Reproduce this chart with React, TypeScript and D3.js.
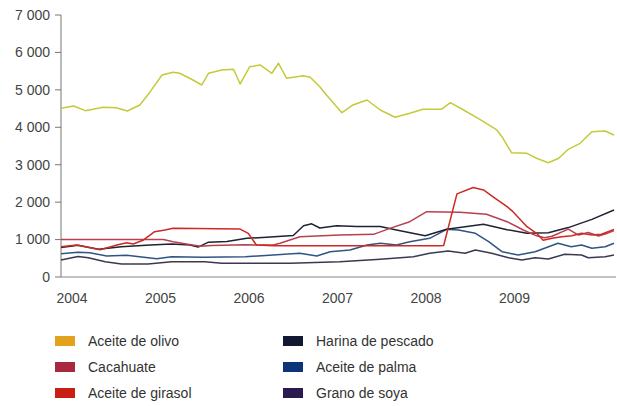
import React from "react";
import * as d3 from "d3";

type Pt = [number, number]; // [month index from Jan 2004, value]

const years = ["2004", "2005", "2006", "2007", "2008", "2009"];
const yTicks = [0, 1000, 2000, 3000, 4000, 5000, 6000, 7000];

const olivo: Pt[] = [
  [0, 4510], [1.7, 4570], [3.3, 4444], [5.7, 4534], [7.5, 4524], [9, 4436], [10.7, 4596],
  [12.1, 4951], [13.7, 5397], [15.2, 5470], [16.1, 5443], [17.7, 5283], [19.1, 5130],
  [20, 5443], [21.8, 5531], [23.4, 5550], [24.3, 5157], [25.6, 5619], [27, 5665],
  [28.6, 5443], [29.5, 5710], [30.6, 5309], [32.9, 5379], [33.8, 5336], [35.1, 5085],
  [36, 4863], [38.1, 4390], [39.6, 4596], [41.5, 4729], [43.3, 4462], [45.3, 4267],
  [47.3, 4374], [49.1, 4481], [51.6, 4481], [52.8, 4657], [54.6, 4462], [56.8, 4214],
  [59.1, 3928], [59.8, 3749], [61.1, 3321], [63.2, 3305], [64.5, 3172], [66.1, 3054],
  [67.5, 3172], [68.8, 3412], [70.4, 3572], [72, 3882], [73.8, 3901], [75, 3794],
];

const cacahuate: Pt[] = [
  [0, 1000], [13.9, 1000], [15.2, 943], [17, 882], [18.9, 820], [20.4, 840], [25, 860],
  [26.5, 855], [28.8, 855], [29.7, 900], [32.4, 1077], [37.8, 1122], [42.4, 1140],
  [44.6, 1300], [47.3, 1478], [49.6, 1745], [54.1, 1728], [57.7, 1675], [60.5, 1478],
  [62.7, 1256], [64.5, 1100], [65.6, 1050], [66.6, 1090], [68.8, 1280], [70.2, 1120],
  [71.5, 1190], [72.9, 1096], [74, 1160], [75, 1240],
];

const girasol: Pt[] = [
  [0, 810], [2.1, 855], [5.3, 730], [7.6, 855], [8.9, 917], [9.8, 880], [11.2, 990],
  [12.7, 1210], [14.1, 1256], [15.2, 1300], [24.3, 1280], [25.4, 1167], [26.5, 855],
  [28.8, 835], [51.4, 835], [51.9, 840], [53.7, 2220], [55.9, 2390], [57.3, 2325],
  [58.6, 2140], [60.5, 1880], [61.3, 1745], [63.2, 1344], [64.5, 1167], [65.4, 980],
  [66.6, 1034], [67.9, 1077], [69.3, 1104], [70.6, 1167], [72, 1122], [73.3, 1141],
  [75, 1270],
];

const harina: Pt[] = [
  [0, 790], [2.3, 850], [5.1, 740], [8.2, 810], [12.1, 855], [15, 880], [17.5, 855],
  [18.6, 800], [20, 930], [22.5, 950], [25.2, 1034], [27.9, 1060], [31.5, 1110],
  [32.9, 1370], [34, 1420], [35.1, 1310], [37.4, 1370], [40.1, 1350], [43.3, 1350],
  [45.5, 1256], [48.2, 1150], [49.4, 1100], [52.3, 1274], [57.3, 1407], [60.5, 1265],
  [63.2, 1167], [66.1, 1180], [68.8, 1320], [72, 1540], [75, 1790],
];

const palma: Pt[] = [
  [0, 620], [2.3, 660], [3.9, 650], [6.2, 560], [8.9, 580], [13, 490], [15, 540],
  [19.3, 526], [25, 543], [32.4, 633], [34.7, 560], [36.5, 676], [39.2, 721],
  [41.5, 855], [43.3, 900], [45.5, 855], [47.3, 943], [50, 1034], [52.3, 1274],
  [53.9, 1256], [56.2, 1167], [58, 943], [59.8, 676], [62, 588], [64.3, 676],
  [67.4, 900], [69.2, 810], [70.6, 855], [72, 767], [73.8, 810], [75, 900],
];

const soya: Pt[] = [
  [0, 454], [2.3, 550], [3.7, 516], [6, 409], [8.2, 345], [11.8, 345], [15, 409],
  [19.5, 409], [21.8, 366], [25, 366], [31.1, 366], [37.8, 409], [43.3, 473],
  [47.8, 543], [50, 633], [52.5, 695], [54.8, 633], [56.2, 721], [58.4, 633],
  [60.7, 516], [62.5, 454], [64.3, 516], [66.1, 481], [68.3, 607], [70.6, 588],
  [71.5, 516], [73.8, 543], [75, 588],
];

const seriesNames = [
  "Aceite de olivo", "Cacahuate", "Aceite de girasol",
  "Harina de pescado", "Aceite de palma", "Grano de soya",
];
const seriesData = [olivo, cacahuate, girasol, harina, palma, soya];
const lineColors = ["#c4ca3a", "#b8404f", "#cc2a22", "#1f2230", "#2f5582", "#3d3852"];
const swatchColors = ["#e2a21e", "#a82840", "#c81e14", "#111830", "#0c3478", "#2a1a4e"];

export default function App() {
  const W = 617, H = 406;
  const x = d3.scaleLinear().domain([0, 75]).range([61, 614]);
  const y = d3.scaleLinear().domain([0, 7000]).range([277, 15]);
  const line = d3.line<Pt>().x((d) => x(d[0])).y((d) => y(d[1]));
  const fmt = (v: number) => d3.format(",")(v).replace(/,/g, " ");
  const font = "'Liberation Sans', Arial, Helvetica, sans-serif";
  const drawOrder = [5, 4, 3, 1, 2, 0];

  return (
    <svg width={W} height={H} style={{ position: "absolute", left: 0, top: 0, background: "#fff" }} fontFamily={font}>
      {/* y axis */}
      <line x1={61} x2={61} y1={y(7000)} y2={y(0)} stroke="#777" strokeWidth={1} />
      {yTicks.map((t) => (
        <g key={t}>
          <line x1={55} x2={61} y1={y(t)} y2={y(t)} stroke="#777" strokeWidth={1} />
          <text x={50} y={y(t)} dy="0.35em" textAnchor="end" fontSize={14} fill="#444">
            {fmt(t)}
          </text>
        </g>
      ))}
      {/* x axis */}
      <line x1={61} x2={616} y1={y(0)} y2={y(0)} stroke="#888" strokeWidth={1} />
      {years.map((yr, i) => (
        <text key={yr} x={x(12 * i + 1.5)} y={303} textAnchor="middle" fontSize={14} fill="#444">
          {yr}
        </text>
      ))}
      {/* lines */}
      {drawOrder.map((i) => (
        <path key={i} d={line(seriesData[i]) || ""} fill="none" stroke={lineColors[i]} strokeWidth={1.5} strokeLinejoin="round" />
      ))}
      {/* legend */}
      {seriesNames.map((name, i) => {
        const col = Math.floor(i / 3);
        const row = i % 3;
        const sx = col === 0 ? 55 : 283;
        const cy = 341 + row * 26;
        return (
          <g key={name}>
            <rect x={sx} y={cy - 5} width={20} height={10} fill={swatchColors[i]} />
            <text x={sx + 33} y={cy} dy="0.35em" fontSize={14} fill="#333">
              {name}
            </text>
          </g>
        );
      })}
    </svg>
  );
}
